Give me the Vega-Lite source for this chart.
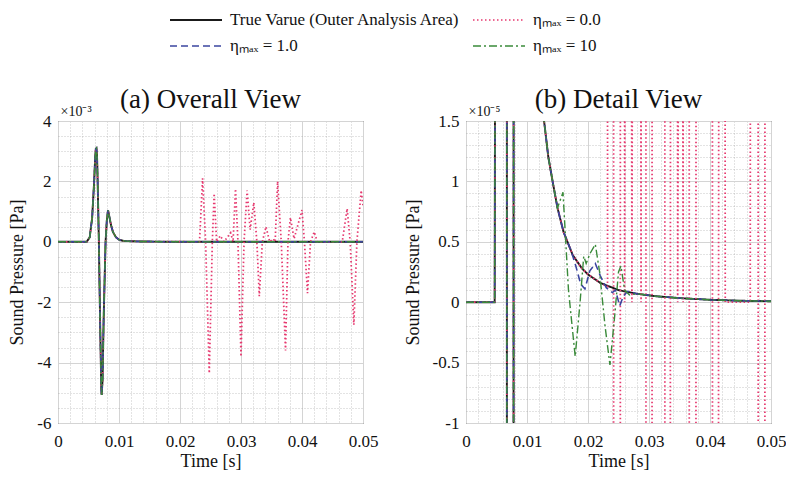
{
  "$schema": "https://vega.github.io/schema/vega-lite/v6.json",
  "background": "white",
  "padding": {"left": 8, "top": 6, "right": 5, "bottom": 5},
  "config": {
    "font": "Liberation Serif",
    "view": {"stroke": "#262626", "strokeWidth": 1},
    "axis": {"labelFont": "Liberation Serif", "titleFont": "Liberation Serif", "labelFontSize": 17, "titleFontSize": 18, "labelColor": "#111", "titleColor": "#111", "titleFontWeight": "normal", "domain": false, "ticks": false, "labelFlush": false, "labelPadding": 7},
    "title": {"font": "Liberation Serif", "fontSize": 27, "fontWeight": "normal", "color": "#111", "anchor": "middle", "frame": "group", "offset": -10},
    "legend": {"labelFont": "Liberation Serif", "labelFontSize": 17, "labelColor": "#111"}
  },
  "data": {"values": [
    {"s":"true","t":0,"p":0},{"s":"true","t":0.0047,"p":0},{"s":"true","t":0.0052,"p":0.00015},{"s":"true","t":0.0056,"p":0.0008},{"s":"true","t":0.0059,"p":0.0019},{"s":"true","t":0.0061,"p":0.0028},{"s":"true","t":0.0062,"p":0.00308},{"s":"true","t":0.0063,"p":0.0031},{"s":"true","t":0.0064,"p":0.00285},{"s":"true","t":0.0065,"p":0.002},{"s":"true","t":0.0067,"p":0},{"s":"true","t":0.0069,"p":-0.0026},{"s":"true","t":0.0071,"p":-0.0049},{"s":"true","t":0.00716,"p":-0.00507},{"s":"true","t":0.0073,"p":-0.0046},{"s":"true","t":0.0075,"p":-0.0024},{"s":"true","t":0.0078,"p":0},{"s":"true","t":0.008,"p":0.0007},{"s":"true","t":0.0082,"p":0.00105},{"s":"true","t":0.0084,"p":0.00085},{"s":"true","t":0.0087,"p":0.00055},{"s":"true","t":0.009,"p":0.00033},{"s":"true","t":0.0095,"p":0.00015},{"s":"true","t":0.01,"p":0.00007},{"s":"true","t":0.0106,"p":0.000035},{"s":"true","t":0.0112,"p":0.000024},{"s":"true","t":0.012,"p":0.000018},{"s":"true","t":0.0128,"p":0.000015},{"s":"true","t":0.0135,"p":0.000012},{"s":"true","t":0.0142,"p":0.00001},{"s":"true","t":0.015,"p":7.8e-6},{"s":"true","t":0.016,"p":5.8e-6},{"s":"true","t":0.0175,"p":3.9e-6},{"s":"true","t":0.019,"p":2.8e-6},{"s":"true","t":0.02,"p":2.3e-6},{"s":"true","t":0.022,"p":1.6e-6},{"s":"true","t":0.025,"p":1.0e-6},{"s":"true","t":0.028,"p":7e-7},{"s":"true","t":0.031,"p":5e-7},{"s":"true","t":0.035,"p":3.4e-7},{"s":"true","t":0.04,"p":2e-7},{"s":"true","t":0.045,"p":1.2e-7},{"s":"true","t":0.05,"p":8e-8},

    {"s":"0.0","t":0,"p":0},{"s":"0.0","t":0.0047,"p":0},{"s":"0.0","t":0.0052,"p":0.00015},{"s":"0.0","t":0.0056,"p":0.0008},{"s":"0.0","t":0.0059,"p":0.0019},{"s":"0.0","t":0.0061,"p":0.0028},{"s":"0.0","t":0.0062,"p":0.00308},{"s":"0.0","t":0.0063,"p":0.0031},{"s":"0.0","t":0.0064,"p":0.00285},{"s":"0.0","t":0.0065,"p":0.002},{"s":"0.0","t":0.0067,"p":0},{"s":"0.0","t":0.0069,"p":-0.0026},{"s":"0.0","t":0.0071,"p":-0.0049},{"s":"0.0","t":0.00716,"p":-0.00507},{"s":"0.0","t":0.0073,"p":-0.0046},{"s":"0.0","t":0.0075,"p":-0.0024},{"s":"0.0","t":0.0078,"p":0},{"s":"0.0","t":0.008,"p":0.0007},{"s":"0.0","t":0.0082,"p":0.00105},{"s":"0.0","t":0.0084,"p":0.00085},{"s":"0.0","t":0.0087,"p":0.00055},{"s":"0.0","t":0.009,"p":0.00033},{"s":"0.0","t":0.0095,"p":0.00015},{"s":"0.0","t":0.01,"p":0.00007},{"s":"0.0","t":0.0106,"p":0.000035},{"s":"0.0","t":0.0112,"p":0.000024},{"s":"0.0","t":0.012,"p":0.000018},{"s":"0.0","t":0.0128,"p":0.000015},{"s":"0.0","t":0.0135,"p":0.000012},{"s":"0.0","t":0.0142,"p":0.00001},{"s":"0.0","t":0.015,"p":7.8e-6},{"s":"0.0","t":0.016,"p":5.8e-6},{"s":"0.0","t":0.0175,"p":3.9e-6},{"s":"0.0","t":0.019,"p":2.8e-6},{"s":"0.0","t":0.02,"p":2.3e-6},{"s":"0.0","t":0.022,"p":1.6e-6},
    {"s":"0.0","t":0.0232,"p":1.3e-6},{"s":"0.0","t":0.0237,"p":0.0021},{"s":"0.0","t":0.0242,"p":0},{"s":"0.0","t":0.0248,"p":-0.00435},{"s":"0.0","t":0.0253,"p":0},{"s":"0.0","t":0.0256,"p":0.0016},{"s":"0.0","t":0.026,"p":0},{"s":"0.0","t":0.0266,"p":0.0002},{"s":"0.0","t":0.0272,"p":0},{"s":"0.0","t":0.0283,"p":0.0003},{"s":"0.0","t":0.0287,"p":0},{"s":"0.0","t":0.0291,"p":0.00175},{"s":"0.0","t":0.0295,"p":0},{"s":"0.0","t":0.03,"p":-0.0038},{"s":"0.0","t":0.0305,"p":0},{"s":"0.0","t":0.031,"p":0.0017},{"s":"0.0","t":0.0315,"p":0.0004},{"s":"0.0","t":0.0321,"p":0.0013},{"s":"0.0","t":0.0326,"p":0},{"s":"0.0","t":0.033,"p":-0.0018},{"s":"0.0","t":0.0335,"p":0},{"s":"0.0","t":0.0341,"p":0.0005},{"s":"0.0","t":0.0347,"p":0},{"s":"0.0","t":0.0353,"p":0.0001},{"s":"0.0","t":0.0356,"p":0},{"s":"0.0","t":0.036,"p":0.002},{"s":"0.0","t":0.0366,"p":0},{"s":"0.0","t":0.0373,"p":-0.0036},{"s":"0.0","t":0.0377,"p":0},{"s":"0.0","t":0.0381,"p":0.0008},{"s":"0.0","t":0.0387,"p":0.0001},{"s":"0.0","t":0.04,"p":0.00105},{"s":"0.0","t":0.0404,"p":0},{"s":"0.0","t":0.0409,"p":-0.0017},{"s":"0.0","t":0.0414,"p":0},{"s":"0.0","t":0.042,"p":0.00033},{"s":"0.0","t":0.0425,"p":0},{"s":"0.0","t":0.0466,"p":0},{"s":"0.0","t":0.0474,"p":0.0011},{"s":"0.0","t":0.0479,"p":0},{"s":"0.0","t":0.0485,"p":-0.00275},{"s":"0.0","t":0.049,"p":0},{"s":"0.0","t":0.0497,"p":0.0017},{"s":"0.0","t":0.05,"p":0.0012},

    {"s":"1.0","t":0,"p":0},{"s":"1.0","t":0.0047,"p":0},{"s":"1.0","t":0.0052,"p":0.00015},{"s":"1.0","t":0.0056,"p":0.0008},{"s":"1.0","t":0.0059,"p":0.0019},{"s":"1.0","t":0.0061,"p":0.0028},{"s":"1.0","t":0.0062,"p":0.00308},{"s":"1.0","t":0.0063,"p":0.0031},{"s":"1.0","t":0.0064,"p":0.00285},{"s":"1.0","t":0.0065,"p":0.002},{"s":"1.0","t":0.0067,"p":0},{"s":"1.0","t":0.0069,"p":-0.0026},{"s":"1.0","t":0.0071,"p":-0.0049},{"s":"1.0","t":0.00716,"p":-0.00507},{"s":"1.0","t":0.0073,"p":-0.0046},{"s":"1.0","t":0.0075,"p":-0.0024},{"s":"1.0","t":0.0078,"p":0},{"s":"1.0","t":0.008,"p":0.0007},{"s":"1.0","t":0.0082,"p":0.00105},{"s":"1.0","t":0.0084,"p":0.00085},{"s":"1.0","t":0.0087,"p":0.00055},{"s":"1.0","t":0.009,"p":0.00033},{"s":"1.0","t":0.0095,"p":0.00015},{"s":"1.0","t":0.01,"p":0.00007},{"s":"1.0","t":0.0106,"p":0.000035},{"s":"1.0","t":0.0112,"p":0.000024},{"s":"1.0","t":0.012,"p":0.000018},{"s":"1.0","t":0.0128,"p":0.000015},{"s":"1.0","t":0.0135,"p":0.000012},{"s":"1.0","t":0.0142,"p":0.00001},{"s":"1.0","t":0.015,"p":7.8e-6},{"s":"1.0","t":0.016,"p":5.8e-6},
    {"s":"1.0","t":0.0172,"p":4.3e-6},{"s":"1.0","t":0.018,"p":3.0e-6},{"s":"1.0","t":0.0188,"p":1.5e-6},{"s":"1.0","t":0.0195,"p":1.1e-6},{"s":"1.0","t":0.0203,"p":2.6e-6},{"s":"1.0","t":0.0212,"p":3.2e-6},{"s":"1.0","t":0.022,"p":2.2e-6},{"s":"1.0","t":0.023,"p":1.2e-6},{"s":"1.0","t":0.024,"p":8e-7},{"s":"1.0","t":0.0245,"p":1.0e-6},{"s":"1.0","t":0.0252,"p":-3e-7},{"s":"1.0","t":0.0258,"p":5e-7},{"s":"1.0","t":0.0265,"p":9e-7},
    {"s":"1.0","t":0.028,"p":7e-7},{"s":"1.0","t":0.031,"p":5e-7},{"s":"1.0","t":0.035,"p":3.4e-7},{"s":"1.0","t":0.04,"p":2e-7},{"s":"1.0","t":0.045,"p":1.2e-7},{"s":"1.0","t":0.05,"p":8e-8},

    {"s":"10","t":0,"p":0},{"s":"10","t":0.0047,"p":0},{"s":"10","t":0.0052,"p":0.00015},{"s":"10","t":0.0056,"p":0.0008},{"s":"10","t":0.0059,"p":0.0019},{"s":"10","t":0.0061,"p":0.0028},{"s":"10","t":0.0062,"p":0.00308},{"s":"10","t":0.0063,"p":0.0031},{"s":"10","t":0.0064,"p":0.00285},{"s":"10","t":0.0065,"p":0.002},{"s":"10","t":0.0067,"p":0},{"s":"10","t":0.0069,"p":-0.0026},{"s":"10","t":0.0071,"p":-0.0049},{"s":"10","t":0.00716,"p":-0.00507},{"s":"10","t":0.0073,"p":-0.0046},{"s":"10","t":0.0075,"p":-0.0024},{"s":"10","t":0.0078,"p":0},{"s":"10","t":0.008,"p":0.0007},{"s":"10","t":0.0082,"p":0.00105},{"s":"10","t":0.0084,"p":0.00085},{"s":"10","t":0.0087,"p":0.00055},{"s":"10","t":0.009,"p":0.00033},{"s":"10","t":0.0095,"p":0.00015},{"s":"10","t":0.01,"p":0.00007},{"s":"10","t":0.0106,"p":0.000035},{"s":"10","t":0.0112,"p":0.000024},{"s":"10","t":0.012,"p":0.000018},{"s":"10","t":0.0128,"p":0.000015},{"s":"10","t":0.0135,"p":0.000012},{"s":"10","t":0.0142,"p":0.00001},{"s":"10","t":0.015,"p":7.8e-6},
    {"s":"10","t":0.0159,"p":9.1e-6},{"s":"10","t":0.0168,"p":1e-6},{"s":"10","t":0.0179,"p":-4.5e-6},{"s":"10","t":0.0187,"p":0},{"s":"10","t":0.0193,"p":3.8e-6},{"s":"10","t":0.0197,"p":3.2e-6},{"s":"10","t":0.0203,"p":4.0e-6},{"s":"10","t":0.0212,"p":4.8e-6},{"s":"10","t":0.0219,"p":2.5e-6},{"s":"10","t":0.0228,"p":-2e-6},{"s":"10","t":0.0236,"p":-5.2e-6},{"s":"10","t":0.0244,"p":-1e-6},{"s":"10","t":0.025,"p":2.5e-6},{"s":"10","t":0.0254,"p":3.0e-6},{"s":"10","t":0.026,"p":1.0e-6},{"s":"10","t":0.0268,"p":6e-7},
    {"s":"10","t":0.028,"p":7e-7},{"s":"10","t":0.031,"p":5e-7},{"s":"10","t":0.035,"p":3.4e-7},{"s":"10","t":0.04,"p":2e-7},{"s":"10","t":0.045,"p":1.2e-7},{"s":"10","t":0.05,"p":8e-8}
  ]},
  "spacing": 24,
  "hconcat": [
    {
      "width": 305, "height": 302,
      "title": {"text": "(a) Overall View"},
      "layer": [
        {
          "mark": {"type": "line", "opacity": 0, "clip": true},
          "encoding": {
            "x": {"field": "t", "type": "quantitative", "scale": {"domain": [0, 0.05], "nice": false, "zero": false},
              "axis": {"orient": "bottom", "values": [0.002,0.004,0.006,0.008,0.012,0.014,0.016,0.018,0.022,0.024,0.026,0.028,0.032,0.034,0.036,0.038,0.042,0.044,0.046,0.048], "grid": true, "gridDash": [1, 2], "gridColor": "#9a9a9a", "gridOpacity": 0.55, "labels": false, "title": null}},
            "y": {"field": "p", "type": "quantitative", "scale": {"domain": [-0.006, 0.004], "nice": false, "zero": false},
              "axis": {"orient": "left", "values": [-0.0055,-0.005,-0.0045,-0.0035,-0.003,-0.0025,-0.0015,-0.001,-0.0005,0.0005,0.001,0.0015,0.0025,0.003,0.0035], "grid": true, "gridDash": [1, 2], "gridColor": "#9a9a9a", "gridOpacity": 0.55, "labels": false,
                "title": "×10⁻³", "titleAngle": 0, "titleAlign": "left", "titleBaseline": "bottom", "titleX": 2, "titleY": -3, "titleFontSize": 14}},
            "detail": {"field": "s"}
          }
        },
        {
          "mark": {"type": "line", "clip": true},
          "encoding": {
            "x": {"field": "t", "type": "quantitative",
              "axis": {"orient": "bottom", "values": [0, 0.01, 0.02, 0.03, 0.04, 0.05], "format": ".2~f", "grid": true, "gridColor": "#d4d4d4", "labelPadding": 10, "title": "Time [s]", "titlePadding": 3}},
            "y": {"field": "p", "type": "quantitative",
              "axis": {"orient": "left", "values": [-0.006, -0.004, -0.002, 0, 0.002, 0.004], "labelExpr": "replace(format(datum.value*1000, '~g'), '−', '-')", "grid": true, "gridColor": "#d4d4d4", "title": "Sound Pressure [Pa]", "titlePadding": 10}},
            "color": {"field": "s", "type": "nominal",
              "scale": {"domain": ["true", "0.0", "1.0", "10"], "range": ["#1a1a1a", "#e6396f", "#3b45a0", "#3a8a3a"]},
              "legend": {"orient": "none", "legendX": 124, "legendY": -115, "columns": 2, "direction": "horizontal", "title": null, "symbolType": "M-2,0H2", "symbolSize": 676, "columnPadding": 8, "rowPadding": 4, "labelOffset": 20, "labelLimit": 400,
                "labelExpr": "datum.label == 'true' ? 'True Varue (Outer Analysis Area)' : 'ηₘₐₓ = ' + datum.label"}},
            "strokeDash": {"field": "s", "type": "nominal",
              "scale": {"domain": ["true", "0.0", "1.0", "10"], "range": [[1, 0], [1.5, 2.5], [7, 4], [8, 3, 2, 3]]}},
            "strokeWidth": {"field": "s", "type": "nominal",
              "scale": {"domain": ["true", "0.0", "1.0", "10"], "range": [1.9, 1.4, 1.5, 1.4]}},
            "order": {"field": "t", "type": "quantitative"}
          }
        }
      ],
      "resolve": {"axis": {"x": "independent", "y": "independent"}}
    },
    {
      "width": 305, "height": 302,
      "title": {"text": "(b) Detail View"},
      "layer": [
        {
          "mark": {"type": "line", "opacity": 0, "clip": true},
          "encoding": {
            "x": {"field": "t", "type": "quantitative", "scale": {"domain": [0, 0.05], "nice": false, "zero": false},
              "axis": {"orient": "bottom", "values": [0.002,0.004,0.006,0.008,0.012,0.014,0.016,0.018,0.022,0.024,0.026,0.028,0.032,0.034,0.036,0.038,0.042,0.044,0.046,0.048], "grid": true, "gridDash": [1, 2], "gridColor": "#9a9a9a", "gridOpacity": 0.55, "labels": false, "title": null}},
            "y": {"field": "p", "type": "quantitative", "scale": {"domain": [-0.00001, 0.000015], "nice": false, "zero": false},
              "axis": {"orient": "left", "values": [-9e-6,-8e-6,-7e-6,-6e-6,-4e-6,-3e-6,-2e-6,-1e-6,1e-6,2e-6,3e-6,4e-6,6e-6,7e-6,8e-6,9e-6,1.1e-5,1.2e-5,1.3e-5,1.4e-5], "grid": true, "gridDash": [1, 2], "gridColor": "#9a9a9a", "gridOpacity": 0.55, "labels": false,
                "title": "×10⁻⁵", "titleAngle": 0, "titleAlign": "left", "titleBaseline": "bottom", "titleX": 2, "titleY": -3, "titleFontSize": 14}},
            "detail": {"field": "s"}
          }
        },
        {
          "mark": {"type": "line", "clip": true},
          "encoding": {
            "x": {"field": "t", "type": "quantitative",
              "axis": {"orient": "bottom", "values": [0, 0.01, 0.02, 0.03, 0.04, 0.05], "format": ".2~f", "grid": true, "gridColor": "#d4d4d4", "labelPadding": 10, "title": "Time [s]", "titlePadding": 3}},
            "y": {"field": "p", "type": "quantitative",
              "axis": {"orient": "left", "values": [-0.00001, -0.000005, 0, 0.000005, 0.00001, 0.000015], "labelExpr": "replace(format(datum.value*100000, '.2~f'), '−', '-')", "grid": true, "gridColor": "#d4d4d4", "title": "Sound Pressure [Pa]", "titlePadding": 10}},
            "color": {"field": "s", "type": "nominal",
              "scale": {"domain": ["true", "0.0", "1.0", "10"], "range": ["#1a1a1a", "#e6396f", "#3b45a0", "#3a8a3a"]}},
            "strokeDash": {"field": "s", "type": "nominal",
              "scale": {"domain": ["true", "0.0", "1.0", "10"], "range": [[1, 0], [1.5, 2.5], [7, 4], [8, 3, 2, 3]]}},
            "strokeWidth": {"field": "s", "type": "nominal",
              "scale": {"domain": ["true", "0.0", "1.0", "10"], "range": [1.9, 1.4, 1.5, 1.4]}},
            "order": {"field": "t", "type": "quantitative"}
          }
        }
      ],
      "resolve": {"axis": {"x": "independent", "y": "independent"}}
    }
  ]
}
